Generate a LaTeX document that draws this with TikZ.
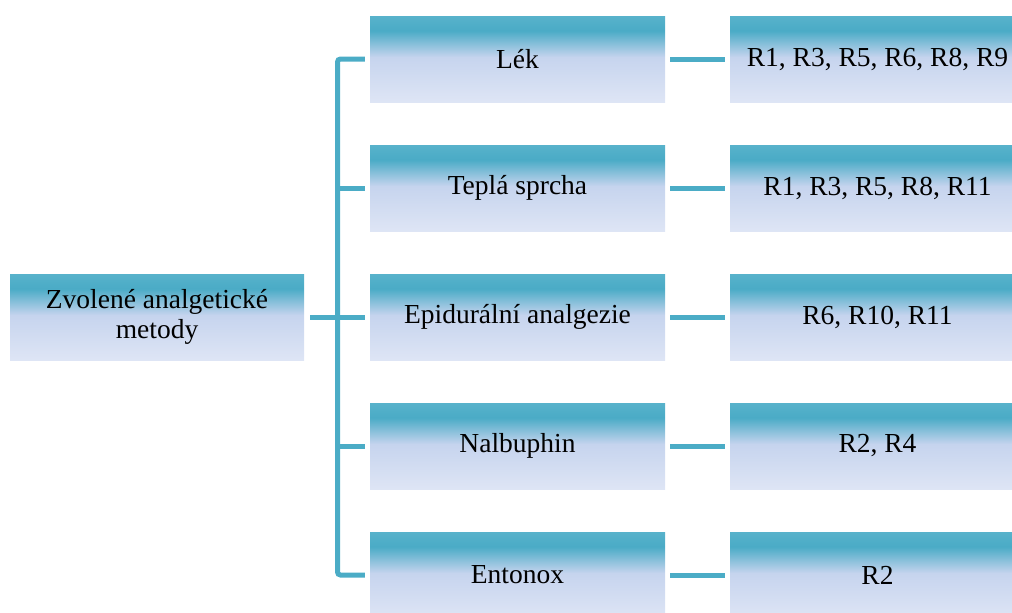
\documentclass[tikz,border=0pt]{standalone}
\usepackage{fontspec}
\setmainfont{Liberation Serif}
\definecolor{lnc}{RGB}{75,172,198}
\definecolor{gtop}{RGB}{88,178,203}
\definecolor{gdark}{RGB}{74,171,198}
\definecolor{gmid}{RGB}{198,212,238}
\definecolor{gbot}{RGB}{222,229,245}
\pgfdeclareverticalshading{boxgrad}{100bp}{color(0bp)=(gbot); color(25bp)=(gbot); color(51bp)=(gmid); color(66.5bp)=(gdark); color(75bp)=(gtop); color(100bp)=(gtop)}
\tikzset{
  box/.style={shading=boxgrad, draw=none, minimum width=295pt, minimum height=86pt,
    inner sep=0pt, align=center, font=\fontsize{27.5}{30}\selectfont},
  conn/.style={draw=lnc, line width=5pt}
}
\begin{document}
\begin{tikzpicture}[x=1pt,y=-1pt]
\useasboundingbox (0,0) rectangle (1012,613);
\clip (0,0) rectangle (1012,613);
\node[box, minimum width=294pt] (root) at (157,317) {Zvolené analgetické\\metody};
\node[box] (m1) at (517.5,59) {Lék};
\node[box] (m2) at (517.5,188) {Teplá sprcha};
\node[box] (m3) at (517.5,317) {Epidurální analgezie};
\node[box] (m4) at (517.5,446) {Nalbuphin};
\node[box] (m5) at (517.5,575) {Entonox};
\node[box] (r1) at (877.5,59) {R1, R3, R5, R6, R8, R9};
\node[box] (r2) at (877.5,188) {R1, R3, R5, R8, R11};
\node[box] (r3) at (877.5,317) {R6, R10, R11};
\node[box] (r4) at (877.5,446) {R2, R4};
\node[box] (r5) at (877.5,575) {R2};
\coordinate (tb) at (337.5,575);
\draw[conn, rounded corners=3pt] ([xshift=-5pt]m1.west) -| (tb) -- ([xshift=-5pt]m5.west);
\foreach \i in {2,3,4} {
  \draw[conn] ([xshift=-5pt]m\i.west) -- (m\i.west -| tb);
}
\draw[conn] ([xshift=6pt]root.east) -- ([xshift=-5pt]m3.west);
\foreach \i in {1,...,5} {
  \draw[conn] ([xshift=5pt]m\i.east) -- ([xshift=-5pt]r\i.west);
}
\end{tikzpicture}
\end{document}
